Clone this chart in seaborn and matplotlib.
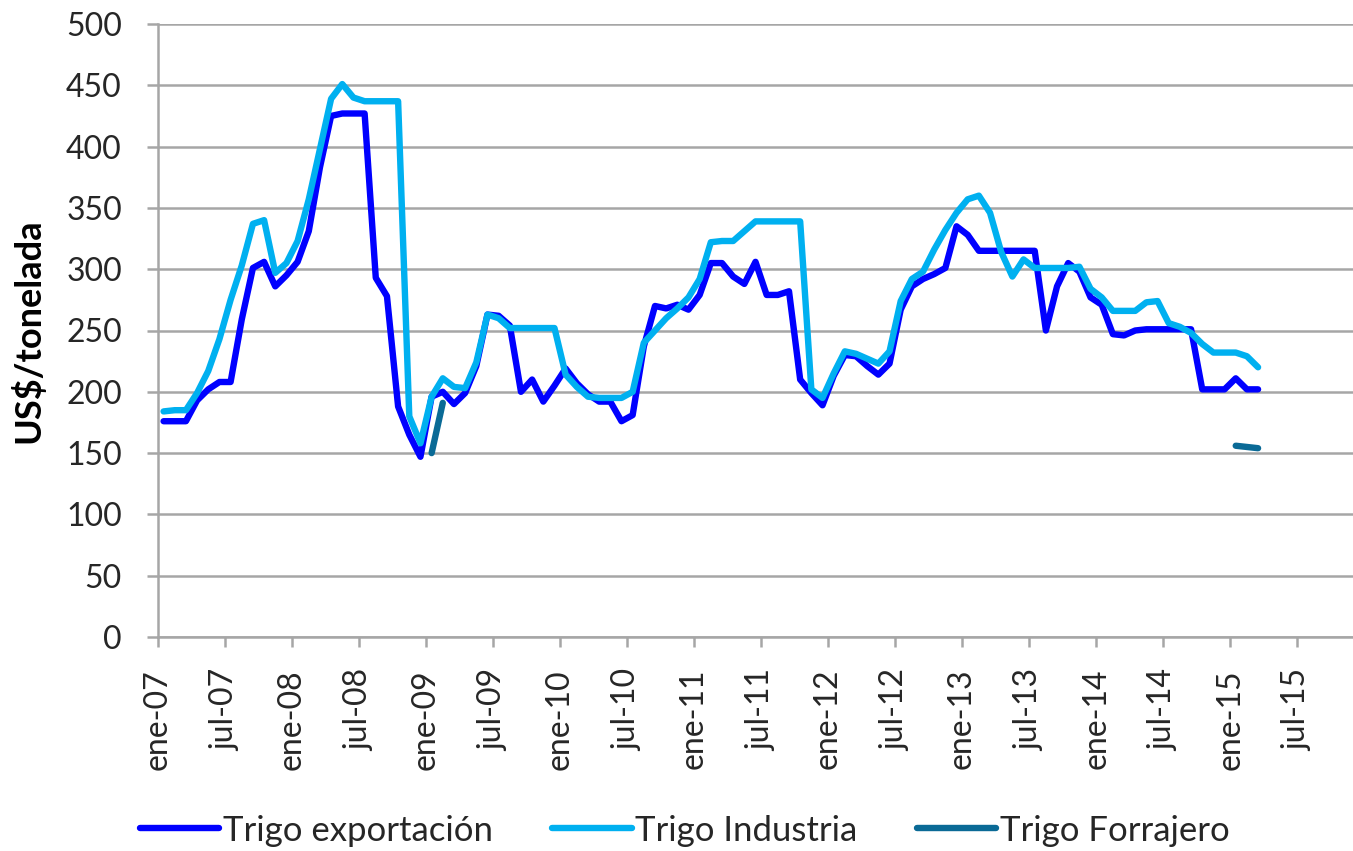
import pandas as pd
import seaborn as sns
import matplotlib.pyplot as plt

# etiquetas del eje x (cada 6 meses, desde ene-07)
etiquetas_x = ["ene-07", "jul-07", "ene-08", "jul-08", "ene-09", "jul-09",
               "ene-10", "jul-10", "ene-11", "jul-11", "ene-12", "jul-12",
               "ene-13", "jul-13", "ene-14", "jul-14", "ene-15", "jul-15"]

# precios mensuales US$/tonelada, ene-07 .. mar-15
trigo_exportacion = [
    176, 176, 176, 193, 202, 208, 208, 259, 301, 306, 286, 295,
    306, 331, 383, 425, 427, 427, 427, 293, 278, 188, 165, 147,
    196, 200, 190, 199, 221, 263, 262, 254, 200, 210, 192, 205,
    219, 207, 198, 192, 192, 176, 181, 237, 270, 268, 271, 267,
    279, 305, 305, 294, 288, 306, 279, 279, 282, 210, 199, 189,
    213, 230, 229, 221, 214, 223, 267, 286, 292, 296, 301, 335,
    328, 315, 315, 315, 315, 315, 315, 250, 286, 305, 298, 277,
    271, 247, 246, 250, 251, 251, 251, 251, 251, 202, 202, 202,
    211, 202, 202]

trigo_industria = [
    184, 185, 185, 199, 217, 243, 275, 303, 337, 340, 297, 305,
    323, 357, 398, 439, 451, 440, 437, 437, 437, 437, 180, 158,
    196, 211, 204, 203, 224, 263, 260, 252, 252, 252, 252, 252,
    214, 204, 196, 195, 195, 195, 200, 240, 250, 260, 268, 277,
    292, 322, 323, 323, 331, 339, 339, 339, 339, 339, 202, 195,
    215, 233, 231, 227, 223, 233, 274, 292, 298, 316, 332, 346,
    357, 360, 346, 314, 294, 308, 301, 301, 301, 301, 302, 284,
    277, 266, 266, 266, 273, 274, 256, 253, 248, 239, 232, 232,
    232, 229, 220]

# solo hay datos en ene-feb 09 y ene-mar 15
trigo_forrajero = [None] * 24 + [150, 191] + [None] * 70 + [156, 155, 154]

series = {
    "Trigo exportación": trigo_exportacion,
    "Trigo Industria": trigo_industria,
    "Trigo Forrajero": trigo_forrajero,
}
colores = {
    "Trigo exportación": "#0000ff",
    "Trigo Industria": "#00b0f0",
    "Trigo Forrajero": "#0a6a96",
}

filas = []
for nombre, valores in series.items():
    tramo = 0
    previo = None
    for i, v in enumerate(valores):
        if v is None:
            previo = None
            continue
        if previo is None:
            tramo += 1
        # el punto cae a mitad del mes (eje "entre marcas")
        filas.append({"mes": i + 0.5, "precio": v, "serie": nombre,
                      "tramo": f"{nombre}-{tramo}"})
        previo = v
df = pd.DataFrame(filas)

sns.set_style("white")
plt.rcParams["font.family"] = ["Lato", "DejaVu Sans"]

gris = "#a6a6a6"
texto = "#262626"

fig = plt.figure(figsize=(13.53, 8.51), dpi=100)
ax = fig.add_axes([158 / 1353, 1 - 637 / 851, 1 - 158 / 1353, (637 - 24) / 851])

sns.lineplot(data=df, x="mes", y="precio", hue="serie", units="tramo",
             estimator=None, sort=False, palette=colores,
             hue_order=list(series.keys()), linewidth=4.6,
             solid_joinstyle="round", solid_capstyle="round", ax=ax)

ax.set_xlim(0, 107)
ax.set_ylim(0, 500)
ax.set_yticks(range(0, 501, 50))
ax.set_xticks(range(0, 6 * len(etiquetas_x), 6))
ax.set_xticklabels(etiquetas_x, rotation=90)

ax.yaxis.grid(True, color=gris, linewidth=1.8)
ax.xaxis.grid(False)
ax.set_axisbelow(True)
for lado in ["top", "right"]:
    ax.spines[lado].set_visible(False)
for lado in ["left", "bottom"]:
    ax.spines[lado].set_color(gris)
    ax.spines[lado].set_linewidth(1.8)

ax.tick_params(axis="y", direction="out", length=8, width=1.8, color=gris,
               labelsize=23, labelcolor=texto, pad=18, left=True)
ax.tick_params(axis="x", direction="out", length=7, width=1.8, color=gris,
               labelsize=23, labelcolor=texto, pad=16, bottom=True)

ax.set_xlabel("")
ax.set_ylabel("US$/tonelada", fontsize=26, fontweight="bold", color="black")
ax.yaxis.set_label_coords(-0.094, 0.5)

handles, labels = ax.get_legend_handles_labels()
ax.legend_.remove()
fig.legend(handles, labels, loc="center", bbox_to_anchor=(0.506, 0.024),
           ncol=3, frameon=False, fontsize=25, handlelength=2.3,
           handletextpad=0.1, columnspacing=1.7, labelcolor=texto)

fig.savefig("out.png", dpi=100)
